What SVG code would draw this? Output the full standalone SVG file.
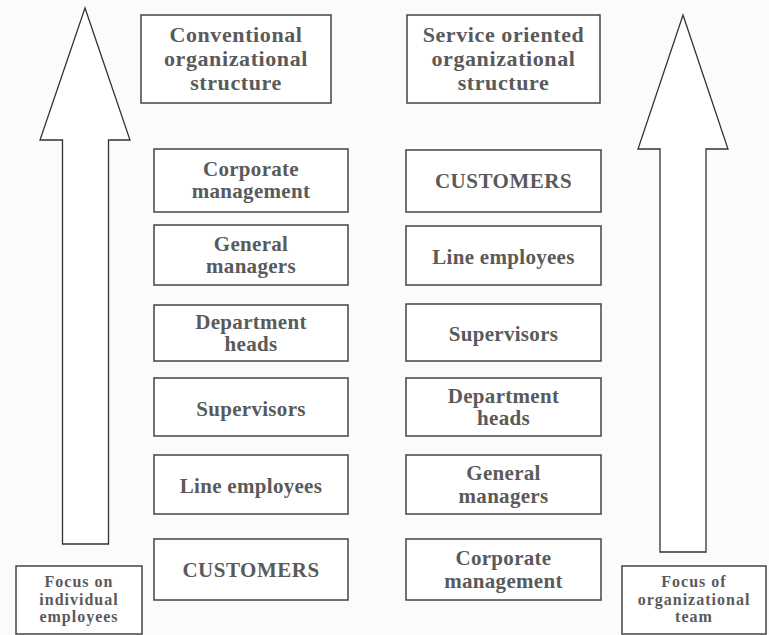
<svg xmlns="http://www.w3.org/2000/svg" width="769" height="635" viewBox="0 0 769 635">
<style>
.box{fill:#ffffff;stroke:#444444;stroke-width:1.5}
.arrow{fill:#ffffff;stroke:#333333;stroke-width:1.3;stroke-linejoin:miter}
text{font-family:"Liberation Serif","Times New Roman",serif;font-weight:bold;fill:#5a5a5a;text-anchor:middle}
.t{font-size:22px;letter-spacing:0.6px}
.m{font-size:21px;letter-spacing:0.3px}
.c{font-size:21px;letter-spacing:0.5px}
.f{font-size:16px;letter-spacing:1px}
</style>
<rect x="0" y="0" width="769" height="635" fill="#fbfbfb"/>
<g id="connectors">
<polygon id="arrow-left" class="arrow" points="85,8 130,140 108.5,140 108.5,544 62.5,544 62.5,140 40,140"/>
<polygon id="arrow-right" class="arrow" points="683,15 728,149 706,149 706,552 660,552 660,149 638,149"/>
</g>
<g id="title-conventional"><rect class="box" x="141" y="15" width="190" height="88"/>
<text class="t" x="236" y="42">Conventional</text><text class="t" x="236" y="66">organizational</text><text class="t" x="236" y="90">structure</text></g>
<g id="title-service"><rect class="box" x="407" y="15" width="193" height="88"/>
<text class="t" x="503.5" y="42">Service oriented</text><text class="t" x="503.5" y="66">organizational</text><text class="t" x="503.5" y="90">structure</text></g>

<g id="l1"><rect class="box" x="154" y="149" width="194" height="63"/><text class="m" x="251" y="176">Corporate</text><text class="m" x="251" y="198">management</text></g>
<g id="l2"><rect class="box" x="154" y="225" width="194" height="60"/><text class="m" x="251" y="251">General</text><text class="m" x="251" y="273">managers</text></g>
<g id="l3"><rect class="box" x="154" y="305" width="194" height="56"/><text class="m" x="251" y="329">Department</text><text class="m" x="251" y="351">heads</text></g>
<g id="l4"><rect class="box" x="154" y="378" width="194" height="58"/><text class="m" x="251" y="416">Supervisors</text></g>
<g id="l5"><rect class="box" x="154" y="455" width="194" height="59"/><text class="m" x="251" y="493">Line employees</text></g>
<g id="l6"><rect class="box" x="154" y="539" width="194" height="61"/><text class="c" x="251" y="577">CUSTOMERS</text></g>

<g id="r1"><rect class="box" x="406" y="150" width="195" height="62"/><text class="c" x="503.5" y="188">CUSTOMERS</text></g>
<g id="r2"><rect class="box" x="406" y="226" width="195" height="59"/><text class="m" x="503.5" y="264">Line employees</text></g>
<g id="r3"><rect class="box" x="406" y="304" width="195" height="57"/><text class="m" x="503.5" y="341">Supervisors</text></g>
<g id="r4"><rect class="box" x="406" y="378" width="195" height="58"/><text class="m" x="503.5" y="403">Department</text><text class="m" x="503.5" y="425">heads</text></g>
<g id="r5"><rect class="box" x="406" y="455" width="195" height="59"/><text class="m" x="503.5" y="480">General</text><text class="m" x="503.5" y="503">managers</text></g>
<g id="r6"><rect class="box" x="406" y="539" width="195" height="61"/><text class="m" x="503.5" y="565">Corporate</text><text class="m" x="503.5" y="588">management</text></g>

<g id="focus-left"><rect class="box" x="16" y="566" width="126" height="68"/><text class="f" x="79" y="587">Focus on</text><text class="f" x="79" y="605">individual</text><text class="f" x="79" y="622">employees</text></g>
<g id="focus-right"><rect class="box" x="622" y="566" width="144" height="68"/><text class="f" x="694" y="587">Focus of</text><text class="f" x="694" y="605">organizational</text><text class="f" x="694" y="622">team</text></g>
</svg>
